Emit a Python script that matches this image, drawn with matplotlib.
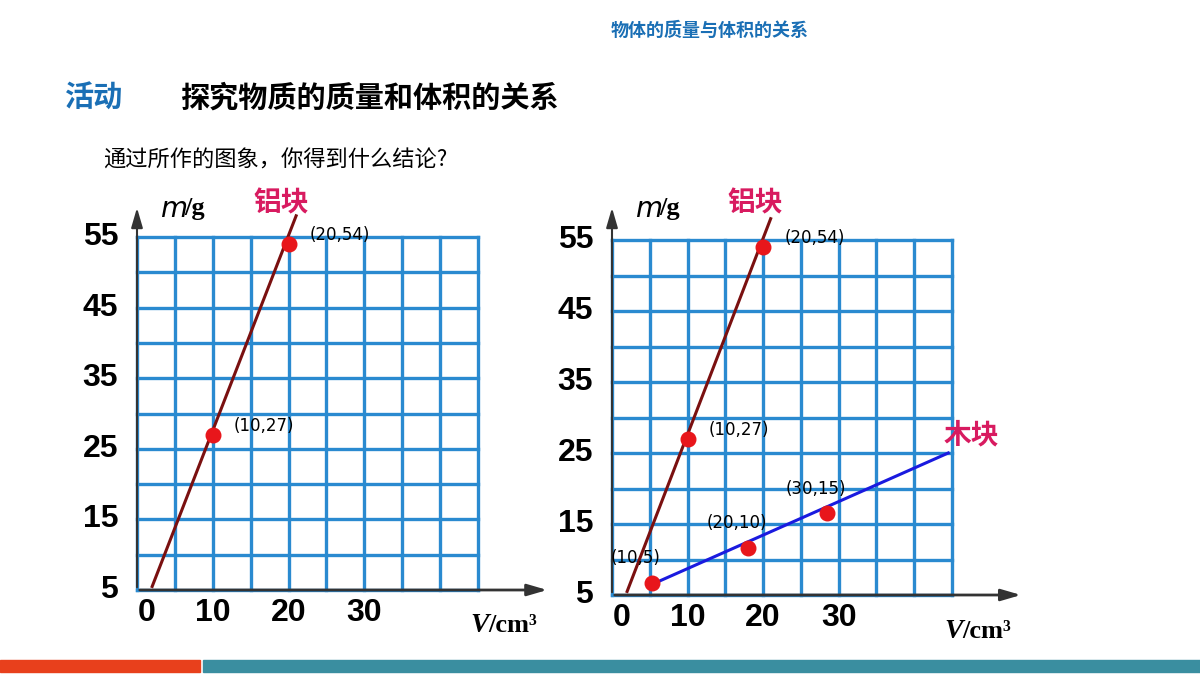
import matplotlib
matplotlib.use("Agg")
import matplotlib.pyplot as plt
from matplotlib.patches import Rectangle

plt.rcParams['font.family'] = ['Noto Sans CJK SC', 'DejaVu Sans']

# data
x_ticks = [0, 10, 20, 30]
y_ticks = [5, 15, 25, 35, 45, 55]
al_x = [10, 20]
al_y = [27, 54]
al_labels = ["(10,27)", "(20,54)"]
al_line_x = [2.0, 21.0]
al_line_y = [5.5, 58.0]
wood_x = [5.3, 18.0, 28.5]
wood_y = [6.7, 11.6, 16.5]
wood_labels = ["(10,5)", "(20,10)", "(30,15)"]
wood_line_x = [5.3, 44.5]
wood_line_y = [6.5, 25.0]

W, H = 1200, 675
fig = plt.figure(figsize=(12, 6.75), dpi=100)
fig.patch.set_facecolor('white')

GRID = '#2a8ad0'

def make_chart(x0px, x1px, yb_px, yt_px, wood):
    sx = (x1px - x0px) / 45.0
    sy = (yb_px - yt_px) / 50.0
    xmax, ymax = 54.5, 5 + (yb_px - 205) / sy
    xmin, ymin = -5, 5 - 45 / sy
    left = x0px + xmin * sx
    right = x0px + xmax * sx
    bottom = yb_px + 45
    top = 205
    ax = fig.add_axes([left / W, 1 - bottom / H, (right - left) / W, (bottom - top) / H])
    ax.set_xlim(xmin, xmax)
    ax.set_ylim(ymin, ymax)
    ax.axis('off')
    for gx in range(0, 50, 5):
        ax.plot([gx, gx], [5, 55], color=GRID, lw=2.4, zorder=1)
    for gy in range(5, 60, 5):
        ax.plot([0, 45], [gy, gy], color=GRID, lw=2.4, zorder=1)
    ax.annotate('', xy=(xmax, 5), xytext=(0, 5),
                arrowprops=dict(arrowstyle='-|>,head_length=1.2,head_width=0.35', color='#333333', lw=2))
    ax.annotate('', xy=(0, ymax), xytext=(0, 5),
                arrowprops=dict(arrowstyle='-|>,head_length=1.2,head_width=0.35', color='#333333', lw=1.5))
    for t in x_ticks:
        ax.text(t if t else 1.3, 5 - 23 / sy, str(t), ha='center', va='center',
                fontsize=23, fontweight='bold', family='Liberation Sans')
    for t in y_ticks:
        ax.text(-2.5, t, str(t), ha='right', va='center',
                fontsize=23, fontweight='bold', family='Liberation Sans')
    ax.text(3.0, ymax - 0.5, r'$\mathbf{\mathit{m}}$', fontsize=20,
            ha='left', va='center')
    ax.text(6.3, ymax - 0.5, '/g', fontsize=19, fontweight='bold',
            family='Liberation Serif', ha='left', va='center')
    ax.text(44, 5 - 36 / sy, 'V', fontsize=20, fontweight='bold', style='italic',
            family='Liberation Serif', ha='left', va='center')
    ax.text(46.3, 5 - 36 / sy, '/cm³', fontsize=19, fontweight='bold',
            family='Liberation Serif', ha='left', va='center')
    ax.plot(al_line_x, al_line_y, color='#7a1010', lw=2.2, zorder=3)
    ax.scatter(al_x, al_y, s=110, color='#e8161b', zorder=4)
    for (px, py, lab) in zip(al_x, al_y, al_labels):
        ax.text(px + 2.8, py + 1.3, lab, fontsize=12, ha='left', va='center', family='DejaVu Sans')
    ax.text(19, ymax + 0.2, '铝块', fontsize=20, color='#d81b60', ha='center', va='center',
            fontweight='bold')
    if wood:
        ax.plot(wood_line_x, wood_line_y, color='#1a1adf', lw=2.2, zorder=3)
        ax.scatter(wood_x, wood_y, s=110, color='#e8161b', zorder=4)
        for px, py, lab in zip(wood_x, wood_y, wood_labels):
            ax.text(px - 5.5, py + 3.5, lab, fontsize=12, ha='left', va='center', family='DejaVu Sans')
        ax.text(47.5, 27.5, '木块', fontsize=20, color='#d81b60', ha='center', va='center',
                fontweight='bold')
    return ax

make_chart(137, 478, 590, 237, False)
make_chart(612, 952, 595, 240, True)

fig.text(710 / W, 1 - 30 / H, '物体的质量与体积的关系', fontsize=13, color='#1a6fb5',
         fontweight='bold', ha='center', va='center')
fig.text(65 / W, 1 - 98 / H, '活动', fontsize=21, color='#1a6fb5', fontweight='bold',
         ha='left', va='center', style='italic')
fig.text(180 / W, 1 - 98 / H, '探究物质的质量和体积的关系', fontsize=21, color='black',
         fontweight='bold', ha='left', va='center')
fig.text(103 / W, 1 - 160 / H, '通过所作的图象，你得到什么结论?', fontsize=16, color='black',
         ha='left', va='center')

fig.patches.append(Rectangle((0, 1 - 672 / H), 200 / W, 12 / H, transform=fig.transFigure,
                             color='#e8401c'))
fig.patches.append(Rectangle((203 / W, 1 - 672 / H), 1 - 203 / W, 12 / H, transform=fig.transFigure,
                             color='#3a8ea0'))

fig.savefig('out.png', dpi=100)
